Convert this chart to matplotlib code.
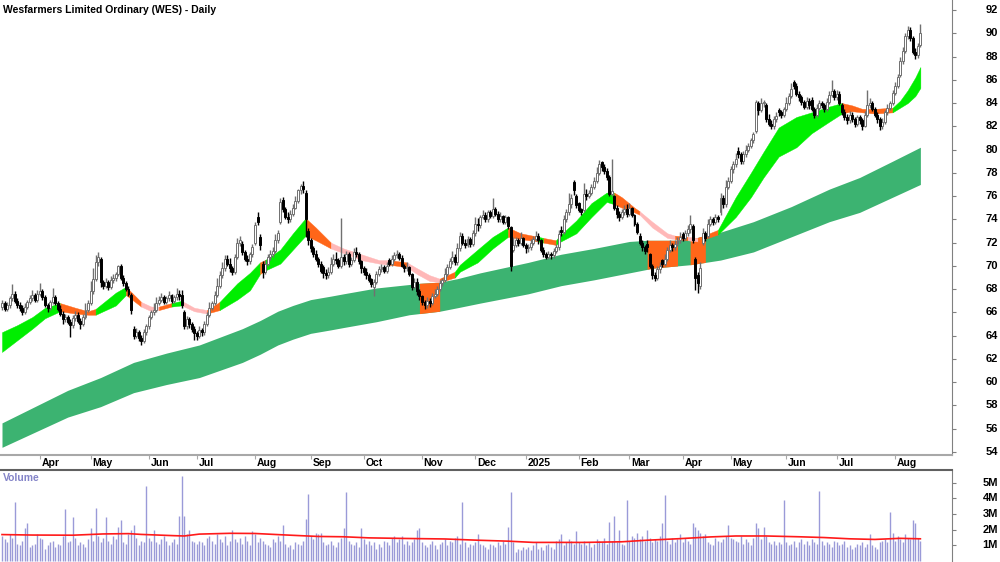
import numpy as np
import pandas as pd
import matplotlib
matplotlib.use('Agg')
import matplotlib.pyplot as plt
import matplotlib.transforms as mtransforms

plt.rcParams['font.family'] = ['Liberation Sans', 'DejaVu Sans']

# ASX trading days shown on the chart
holidays = ['2024-03-29', '2024-04-01', '2024-04-25', '2024-06-10', '2024-12-25',
            '2024-12-26', '2025-01-01', '2025-01-27', '2025-04-18', '2025-04-21',
            '2025-04-25', '2025-06-09']
dates = pd.bdate_range('2024-03-08', '2025-08-15', freq='C', holidays=holidays)

title = 'Wesfarmers Limited Ordinary (WES) - Daily'

# daily prices, one line per month (Mar 2024 .. Aug 2025)
opens = [
    66.5, 66.8, 66.3, 66.6, 67.2, 67.6, 67.0, 66.6, 66.4, 66.0, 66.5, 66.9, 67.2, 67.5, 67.1,
    67.6, 67.8, 67.3, 66.6, 66.4, 66.9, 67.3, 66.8, 66.3, 65.9, 65.4, 65.6, 65.2, 64.9, 65.5, 65.8, 65.3, 65.0, 65.6, 66.2,
    66.8, 67.8, 68.9, 70.3, 70.6, 68.6, 68.3, 68.6, 68.2, 68.8, 69.0, 69.3, 70.0, 69.0, 68.5, 68.0, 67.5, 64.6, 64.0, 64.3, 63.8, 63.5, 64.3,
    64.8, 65.6, 66.0, 66.2, 66.8, 67.1, 67.3, 66.9, 67.2, 67.5, 67.0, 67.3, 67.6, 67.5, 66.0, 64.8, 65.4, 65.0, 64.6,
    64.2, 64.0, 64.5, 64.3, 65.0, 65.8, 66.4, 66.8, 67.5, 68.3, 69.2, 69.8, 70.6, 70.2, 69.8, 69.5, 70.8, 72.0, 71.9, 71.2, 70.6, 70.4, 71.0,
    72.0, 74.2, 72.5, 70.2, 69.5, 70.2, 70.8, 71.0, 71.3, 72.2, 73.8, 75.7, 74.9, 74.2, 74.0, 74.5, 75.0, 75.6, 76.5, 76.9, 76.3, 73.0,
    72.2, 71.5, 71.0, 70.6, 70.2, 69.9, 69.4, 69.2, 69.5, 70.2, 70.6, 70.5, 70.0, 70.8, 70.4, 71.0, 70.2, 70.5, 71.2, 71.0, 70.4,
    69.8, 69.5, 69.2, 68.9, 68.2, 68.6, 69.3, 69.7, 69.9, 69.6, 70.5, 70.2, 70.6, 70.9, 71.0, 70.7, 70.0, 69.8, 69.9, 69.3, 68.2, 68.6, 67.8,
    67.4, 66.9, 66.6, 67.0, 66.8, 67.4, 67.6, 68.0, 68.5, 68.8, 69.3, 69.9, 70.4, 70.8, 70.3, 71.5, 72.6, 72.0, 71.8, 72.3, 71.9,
    72.8, 73.6, 73.5, 74.2, 74.4, 74.0, 74.6, 74.3, 74.9, 74.5, 74.0, 74.3, 73.8, 74.2, 73.3, 71.4, 71.8, 72.2, 72.0, 72.4,
    71.8, 71.5, 71.6, 72.0, 72.3, 72.6, 72.2, 71.4, 71.0, 70.8, 71.0, 70.9, 71.3, 71.6, 73.1, 72.9, 74.0, 74.6, 75.3, 77.2, 76.0,
    75.4, 74.9, 74.8, 76.2, 76.0, 76.3, 76.8, 77.3, 78.0, 78.9, 78.5, 78.2, 77.6, 76.2, 76.0, 75.0, 74.5, 74.2, 74.6, 74.9,
    74.5, 75.0, 74.4, 73.6, 72.6, 72.0, 71.6, 71.9, 71.0, 70.0, 69.2, 69.0, 69.7, 70.5, 70.2, 70.6, 71.4, 71.8, 71.6, 71.9, 72.2,
    72.7, 72.4, 72.8, 73.2, 73.4, 70.6, 69.2, 68.3, 72.0, 72.8, 72.6, 73.6, 74.0, 73.8, 74.2, 74.6, 75.8, 75.3, 76.8,
    77.3, 78.3, 78.8, 79.9, 79.6, 79.0, 79.6, 80.0, 80.3, 80.8, 81.6, 84.0, 83.4, 84.0, 83.8, 82.6, 82.2, 82.0, 82.6, 83.4, 83.2, 83.0,
    83.5, 84.0, 84.6, 85.8, 85.5, 84.8, 84.5, 84.1, 83.7, 84.2, 84.3, 83.5, 83.0, 83.6, 84.0, 83.8, 83.5, 84.1, 84.7, 85.0,
    84.5, 84.8, 83.8, 83.2, 82.8, 82.5, 83.0, 82.6, 82.2, 82.8, 82.5, 82.0, 83.0, 83.8, 84.0, 83.5, 83.0, 82.6, 82.0, 82.4, 83.2, 83.6, 84.0,
    84.9, 85.5, 86.4, 87.6, 88.5, 89.8, 90.3, 89.6, 88.4, 88.1, 89.0,
]
highs = [
    67.1, 67.0, 66.9, 67.4, 68.4, 67.8, 67.2, 66.9, 66.6, 66.8, 67.1, 67.5, 67.9, 67.7, 67.9,
    68.5, 68.0, 67.5, 66.8, 67.1, 68.1, 67.5, 67.0, 66.6, 66.1, 65.9, 65.8, 65.4, 65.8, 66.1, 66.0, 65.5, 65.9, 66.8, 67.1,
    68.7, 69.8, 70.9, 71.2, 70.8, 68.8, 69.0, 68.8, 69.1, 69.3, 69.5, 70.1, 70.2, 69.2, 68.7, 68.3, 67.7, 64.8, 64.7, 64.5, 64.1, 64.6, 65.0,
    65.8, 66.2, 66.8, 67.3, 67.4, 67.7, 67.5, 67.4, 67.8, 67.6, 67.5, 68.1, 67.9, 67.9, 66.2, 65.7, 65.6, 65.2, 64.8,
    64.4, 64.8, 64.7, 65.3, 66.0, 66.9, 67.0, 67.8, 69.0, 69.6, 70.3, 70.9, 70.9, 70.7, 70.0, 71.0, 72.4, 72.6, 72.1, 71.4, 70.9, 71.2, 71.9,
    73.8, 74.6, 72.7, 70.4, 70.5, 71.0, 71.4, 71.6, 72.7, 73.1, 75.8, 75.9, 75.1, 74.6, 74.8, 75.3, 76.0, 76.6, 77.0, 77.3, 76.5, 73.3,
    72.4, 71.7, 71.4, 70.8, 70.4, 70.1, 69.7, 69.9, 70.8, 71.0, 71.2, 70.7, 74.1, 71.0, 71.3, 71.2, 70.8, 71.5, 71.6, 71.2, 70.5,
    70.0, 69.8, 69.4, 69.0, 68.9, 69.6, 70.0, 70.2, 70.1, 70.3, 70.7, 70.9, 71.2, 71.4, 71.2, 70.9, 70.2, 70.3, 70.0, 69.4, 69.0, 69.0, 68.0,
    67.5, 67.1, 67.3, 67.2, 67.7, 68.0, 68.3, 68.8, 69.0, 69.8, 70.2, 70.7, 71.3, 71.0, 72.0, 72.9, 72.8, 72.3, 72.6, 72.5, 73.1,
    74.2, 74.1, 74.4, 74.8, 74.6, 74.8, 74.8, 75.8, 75.1, 74.7, 74.6, 74.4, 74.4, 74.3, 73.4, 72.5, 72.5, 72.4, 72.9, 72.5,
    72.0, 71.9, 72.3, 72.6, 73.0, 72.8, 72.3, 71.6, 71.2, 71.3, 71.2, 71.5, 71.9, 73.1, 73.4, 74.4, 74.9, 76.3, 76.2, 77.4, 76.2,
    75.5, 75.0, 77.1, 76.6, 76.5, 77.0, 77.6, 78.5, 79.1, 79.0, 78.8, 78.4, 77.8, 79.2, 76.1, 75.2, 74.7, 74.9, 75.2, 75.3,
    75.4, 75.1, 74.5, 73.8, 72.8, 72.2, 71.8, 72.2, 71.1, 70.2, 69.5, 70.0, 70.3, 70.6, 71.0, 71.6, 72.2, 72.0, 72.2, 72.5, 72.9,
    72.9, 73.1, 73.5, 74.4, 73.6, 70.8, 69.5, 70.3, 73.3, 73.0, 74.0, 74.3, 74.2, 74.5, 74.4, 76.3, 76.1, 77.4, 77.6,
    78.6, 79.0, 79.7, 80.2, 79.8, 79.9, 80.4, 80.6, 81.0, 81.5, 84.3, 84.2, 84.4, 84.3, 84.0, 83.1, 82.5, 82.9, 83.2, 83.6, 83.4, 83.7,
    84.5, 84.9, 85.7, 86.0, 85.7, 85.0, 84.7, 84.3, 84.5, 84.4, 84.5, 83.7, 83.9, 84.3, 84.2, 84.0, 84.4, 85.0, 86.0, 85.2,
    85.1, 85.0, 84.0, 83.5, 83.1, 83.3, 83.2, 82.8, 83.0, 83.0, 82.7, 83.3, 85.1, 84.4, 84.2, 83.7, 83.2, 82.8, 82.7, 83.4, 83.9, 84.2, 85.1,
    85.8, 86.5, 88.0, 88.8, 90.0, 90.6, 90.5, 89.8, 88.7, 89.2, 90.8,
]
lows = [
    66.2, 66.1, 66.1, 66.4, 67.0, 66.8, 66.4, 66.1, 65.8, 65.9, 66.3, 66.7, 67.0, 66.9, 66.9,
    67.4, 67.1, 66.5, 66.0, 66.2, 66.7, 66.6, 66.1, 65.7, 65.0, 65.2, 65.0, 63.9, 64.7, 65.3, 65.1, 64.6, 64.8, 65.4, 66.0,
    66.6, 67.6, 68.7, 70.0, 68.2, 68.0, 68.1, 67.9, 68.0, 68.5, 68.7, 69.1, 68.8, 68.3, 67.8, 67.4, 65.9, 63.7, 63.8, 63.5, 63.2, 63.4, 64.1,
    64.6, 65.4, 65.8, 66.0, 66.6, 66.9, 66.7, 66.7, 67.0, 66.8, 66.8, 67.1, 67.1, 66.4, 64.6, 64.6, 64.7, 64.3, 63.6,
    63.6, 63.8, 64.0, 64.1, 64.8, 65.6, 66.2, 66.6, 67.3, 68.1, 69.0, 69.6, 70.0, 69.5, 69.2, 69.3, 70.6, 71.7, 70.9, 70.4, 70.1, 70.2, 70.8,
    71.8, 73.5, 71.4, 69.0, 69.3, 70.0, 70.5, 70.8, 71.1, 72.0, 73.6, 74.6, 74.0, 73.7, 73.8, 74.3, 74.9, 75.4, 76.2, 76.3, 72.5, 71.8,
    71.2, 70.8, 70.4, 69.9, 69.4, 69.0, 68.9, 69.0, 69.3, 70.0, 70.2, 69.8, 69.8, 70.1, 70.2, 69.9, 70.0, 70.3, 70.8, 70.2, 69.4,
    69.2, 68.9, 68.6, 68.2, 67.4, 68.4, 69.1, 69.5, 69.4, 69.4, 70.0, 70.0, 70.4, 70.7, 70.5, 69.9, 69.5, 69.6, 69.1, 67.9, 68.0, 67.5, 67.1,
    66.6, 66.3, 66.4, 66.5, 66.6, 67.2, 67.4, 67.8, 68.3, 68.6, 69.1, 69.7, 70.2, 70.1, 70.1, 71.3, 71.8, 71.5, 71.6, 71.6, 71.7,
    72.6, 73.0, 73.3, 74.0, 73.8, 73.8, 74.1, 74.1, 74.3, 73.8, 73.8, 73.6, 73.6, 73.2, 69.6, 71.2, 71.6, 71.7, 71.8, 71.6,
    71.1, 71.2, 71.4, 71.8, 72.1, 71.9, 71.2, 70.8, 70.6, 70.6, 70.6, 70.7, 71.1, 71.4, 72.6, 72.7, 73.8, 74.4, 75.0, 76.1, 75.0,
    74.6, 74.4, 74.6, 75.7, 75.8, 76.1, 76.6, 77.1, 77.8, 78.2, 77.9, 77.4, 76.0, 76.0, 74.8, 74.1, 73.9, 74.0, 74.4, 74.2,
    74.3, 74.2, 73.4, 72.7, 71.8, 71.3, 71.0, 71.2, 69.8, 68.9, 68.7, 68.8, 69.4, 69.9, 70.0, 70.4, 71.2, 71.3, 71.4, 71.7, 72.0,
    72.1, 72.2, 72.6, 72.8, 72.0, 67.9, 67.7, 68.0, 71.8, 72.1, 72.4, 73.4, 73.5, 73.6, 73.8, 74.4, 75.0, 75.1, 76.6,
    77.1, 78.0, 78.5, 79.3, 78.8, 78.8, 79.4, 79.8, 80.1, 80.6, 81.4, 83.0, 83.2, 83.7, 82.4, 82.0, 81.8, 81.8, 82.4, 82.9, 82.7, 82.8,
    83.3, 83.8, 84.4, 85.2, 84.6, 84.2, 83.8, 83.5, 83.5, 83.5, 83.3, 82.7, 82.8, 83.4, 83.6, 83.2, 83.3, 83.9, 84.5, 84.3,
    84.3, 83.8, 83.0, 82.5, 82.2, 82.3, 82.4, 81.9, 82.0, 82.2, 81.7, 81.9, 82.8, 83.6, 83.3, 82.8, 82.3, 81.7, 81.8, 82.2, 83.0, 83.4, 83.8,
    84.7, 85.3, 86.2, 87.4, 88.3, 89.5, 89.3, 88.2, 87.8, 87.9, 88.8,
]
closes = [
    66.8, 66.3, 66.6, 67.2, 67.6, 67.0, 66.6, 66.4, 66.0, 66.5, 66.9, 67.2, 67.5, 67.1, 67.6,
    67.8, 67.3, 66.6, 66.4, 66.9, 67.3, 66.8, 66.3, 65.9, 65.4, 65.6, 65.2, 64.9, 65.5, 65.8, 65.3, 65.0, 65.6, 66.2, 66.8,
    67.8, 68.9, 70.3, 70.8, 68.6, 68.3, 68.6, 68.2, 68.8, 69.0, 69.3, 70.0, 69.0, 68.5, 68.0, 67.6, 66.2, 64.0, 64.3, 63.8, 63.5, 64.3, 64.8,
    65.6, 66.0, 66.2, 66.8, 67.1, 67.3, 66.9, 67.2, 67.5, 67.0, 67.3, 67.6, 67.4, 66.6, 64.8, 65.4, 65.0, 64.6, 64.2,
    64.0, 64.5, 64.3, 65.0, 65.8, 66.4, 66.8, 67.5, 68.3, 69.2, 69.8, 70.6, 70.2, 69.8, 69.5, 70.8, 72.0, 72.2, 71.2, 70.6, 70.4, 71.0, 71.6,
    73.5, 73.8, 71.8, 69.5, 70.2, 70.8, 71.0, 71.3, 72.2, 72.8, 75.5, 74.9, 74.2, 74.0, 74.5, 75.0, 75.6, 76.5, 76.9, 76.6, 74.0, 72.2,
    71.5, 71.0, 70.6, 70.2, 69.6, 69.4, 69.2, 69.5, 70.2, 70.6, 70.5, 70.0, 70.8, 70.4, 71.0, 70.2, 70.5, 71.2, 71.0, 70.4, 69.8,
    69.5, 69.2, 68.8, 68.4, 68.6, 69.3, 69.7, 69.9, 69.6, 70.0, 70.2, 70.6, 70.9, 71.0, 70.7, 70.0, 69.8, 69.9, 69.3, 68.2, 68.6, 67.8, 67.4,
    66.9, 66.6, 67.0, 66.8, 67.4, 67.6, 68.0, 68.5, 68.8, 69.3, 69.9, 70.4, 70.8, 70.3, 71.5, 72.6, 72.0, 71.8, 72.3, 71.9, 72.8,
    73.6, 73.5, 74.2, 74.4, 74.0, 74.6, 74.3, 74.9, 74.5, 74.0, 74.3, 73.8, 74.2, 73.4, 70.0, 71.8, 72.2, 72.0, 72.4, 71.8,
    71.5, 71.6, 72.0, 72.3, 72.6, 72.2, 71.4, 71.0, 70.8, 71.0, 70.9, 71.3, 71.6, 72.7, 72.9, 74.0, 74.6, 75.3, 75.8, 76.5, 75.2,
    74.8, 74.6, 76.2, 76.0, 76.3, 76.8, 77.3, 78.0, 78.8, 78.5, 78.2, 77.6, 76.2, 76.4, 75.0, 74.5, 74.2, 74.6, 74.9, 74.5,
    75.0, 74.4, 73.6, 72.9, 72.0, 71.6, 71.3, 71.6, 70.0, 69.2, 69.0, 69.7, 70.0, 70.2, 70.6, 71.4, 71.8, 71.6, 71.9, 72.2, 72.5,
    72.4, 72.8, 73.2, 73.6, 72.2, 69.0, 68.5, 69.8, 72.8, 72.4, 73.6, 74.0, 73.8, 74.2, 74.0, 75.8, 75.3, 76.8, 77.3,
    78.3, 78.8, 79.2, 79.6, 79.0, 79.6, 80.0, 80.3, 80.8, 81.3, 84.1, 83.4, 84.0, 84.1, 82.6, 82.2, 82.0, 82.6, 82.9, 83.2, 83.0, 83.5,
    84.0, 84.6, 85.2, 85.5, 84.8, 84.5, 84.1, 83.7, 84.2, 83.8, 83.5, 83.0, 83.6, 84.0, 83.8, 83.5, 84.1, 84.7, 85.0, 84.5,
    84.8, 84.0, 83.2, 82.8, 82.5, 83.0, 82.6, 82.2, 82.8, 82.5, 82.0, 83.0, 83.8, 84.0, 83.5, 83.0, 82.6, 82.0, 82.4, 83.2, 83.6, 84.0, 84.9,
    85.5, 86.2, 87.6, 88.5, 89.8, 90.3, 89.6, 88.4, 88.1, 88.9, 90.0,
]
# volume in units of 100,000 shares
volume_100k = [
    16, 14, 12, 17, 15, 38, 11, 10, 13, 21, 24, 9, 10, 11, 17,
    15, 14, 8, 10, 12, 13, 9, 11, 10, 16, 33, 12, 13, 28, 15, 10, 12, 11, 9, 14,
    21, 13, 34, 16, 12, 15, 28, 13, 11, 16, 14, 22, 26, 12, 11, 17, 20, 23, 15, 10, 13, 12, 48,
    15, 13, 20, 12, 11, 14, 16, 13, 10, 12, 14, 11, 29, 54, 29, 17, 20, 13, 12,
    11, 13, 12, 10, 15, 16, 13, 11, 17, 14, 12, 16, 10, 13, 20, 14, 12, 15, 11, 16, 13, 10, 19,
    17, 12, 15, 13, 11, 10, 9, 14, 12, 16, 13, 23, 11, 9, 10, 8, 12, 11, 10, 13, 27, 43,
    16, 14, 18, 17, 18, 12, 10, 11, 13, 10, 9, 12, 15, 21, 44, 13, 11, 10, 12, 9, 21,
    14, 11, 13, 10, 12, 8, 11, 9, 13, 12, 10, 15, 16, 12, 14, 16, 11, 13, 10, 12, 14, 20, 21,
    12, 10, 9, 11, 13, 10, 8, 11, 12, 14, 10, 13, 12, 15, 16, 11, 38, 12, 9, 11, 10,
    12, 17, 11, 10, 9, 8, 11, 10, 9, 12, 10, 13, 11, 22, 44, 12, 6, 8, 7, 9,
    8, 9, 7, 10, 12, 8, 9, 7, 10, 11, 9, 8, 13, 14, 17, 10, 12, 14, 13, 11, 19,
    12, 11, 13, 10, 12, 9, 11, 14, 13, 12, 15, 11, 25, 13, 29, 12, 20, 11, 10, 39,
    13, 16, 15, 18, 14, 16, 13, 20, 15, 12, 14, 13, 16, 24, 42, 13, 11, 15, 12, 14, 17,
    12, 15, 13, 11, 24, 22, 20, 18, 16, 17, 12, 11, 10, 15, 13, 12, 14, 16, 23,
    15, 14, 13, 12, 16, 11, 14, 12, 10, 15, 24, 21, 14, 22, 16, 12, 11, 13, 10, 12, 11, 39,
    12, 10, 11, 13, 9, 12, 14, 11, 13, 10, 14, 12, 11, 45, 13, 10, 12, 11, 9, 13,
    12, 10, 11, 13, 9, 10, 8, 9, 11, 10, 12, 9, 11, 17, 10, 9, 8, 12, 13, 14, 12, 31, 18,
    13, 16, 14, 12, 17, 15, 14, 26, 24, 15, 13,
]

# volume average line (day index, millions)
vol_ma_idx = [0, 12, 28, 40, 50, 55, 68, 72, 78, 90, 100, 110, 118, 125, 135, 145, 160,
              175, 188, 200, 210, 230, 245, 255, 268, 280, 290, 302, 315, 325, 335, 345, 355, 363]
vol_ma = [1.69, 1.66, 1.65, 1.73, 1.75, 1.70, 1.62, 1.60, 1.72, 1.77, 1.76, 1.68, 1.62, 1.57,
          1.55, 1.48, 1.44, 1.41, 1.33, 1.27, 1.19, 1.19, 1.23, 1.33, 1.43, 1.54, 1.60, 1.60,
          1.55, 1.50, 1.42, 1.38, 1.45, 1.42]

# short-term band (day index, upper, lower) and colour of each following segment
sb_idx = [0, 6, 12, 17, 23, 29, 34, 37, 41, 45, 49, 55, 59, 62, 67, 71, 76, 81, 86, 93, 98,
          102, 104, 110, 115, 120, 124, 130, 135, 142, 149, 153, 160, 164, 169, 173, 179, 181,
          188, 194, 200, 205, 212, 214, 219, 220, 227, 233, 239, 242, 245, 250, 252, 257, 263,
          266, 271, 275, 283, 290, 296, 301, 307, 314, 320, 327, 332, 336, 340, 345, 352, 355,
          358, 361, 363]
sb_top = [64.3, 64.9, 65.6, 66.4, 66.8, 66.4, 66.1, 66.3, 67.0, 67.7, 68.2, 66.9, 66.5, 66.5,
          66.8, 67.0, 66.4, 66.2, 66.9, 68.5, 69.4, 70.3, 70.5, 71.4, 72.8, 74.1, 73.3, 72.0,
          71.5, 71.0, 70.5, 70.5, 70.3, 69.8, 69.2, 68.9, 69.5, 70.1, 71.4, 72.5, 73.3, 72.8,
          72.5, 72.4, 72.2, 72.5, 73.9, 75.4, 76.3, 76.3, 75.9, 75.0, 74.7, 73.8, 72.8, 72.6,
          72.5, 72.4, 73.1, 75.9, 78.0, 79.8, 81.9, 82.8, 83.2, 83.7, 84.0, 83.8, 83.5, 83.5,
          83.6, 84.2, 85.1, 86.2, 87.1]
sb_bot = [62.6, 63.6, 64.6, 65.5, 66.1, 65.9, 65.8, 65.8, 66.2, 66.6, 67.5, 66.5, 66.1, 66.2,
          66.5, 66.6, 66.1, 65.9, 66.2, 67.1, 67.9, 69.3, 69.6, 70.2, 71.4, 72.6, 72.2, 71.5,
          71.1, 70.5, 70.2, 70.1, 69.9, 69.3, 68.7, 68.6, 69.0, 69.5, 70.3, 71.5, 72.5, 72.3,
          72.1, 72.0, 71.8, 72.0, 72.8, 74.2, 75.5, 75.3, 75.0, 74.6, 74.4, 73.3, 72.4, 72.3,
          72.2, 72.1, 72.7, 74.2, 75.9, 77.6, 79.4, 80.2, 81.4, 82.4, 83.1, 83.3, 83.2, 83.1,
          83.2, 83.6, 84.0, 84.6, 85.3]
sb_color = ('ggggoooggg' 'oppogppogg' 'gogggooppp' 'popppogggg'
            'oogogggggo' 'oopppopogg' 'ggggggoooo' 'gggg')

# long-term band (day index, upper, lower)
lb_idx = [0, 13, 26, 39, 52, 65, 78, 95, 102, 109, 115, 122, 130, 135, 148, 161, 165, 173,
          180, 189, 208, 221, 234, 248, 255, 257, 267, 272, 278, 284, 297, 312, 327, 339, 352, 363]
lb_top = [56.5, 57.9, 59.3, 60.4, 61.7, 62.5, 63.2, 64.6, 65.3, 66.1, 66.6, 67.1, 67.4, 67.6,
          68.1, 68.4, 68.5, 68.6, 68.9, 69.4, 70.3, 71.0, 71.5, 72.1, 72.2, 72.2, 72.2, 72.3,
          72.6, 72.9, 73.8, 75.1, 76.6, 77.6, 79.0, 80.2]
lb_bot = [54.4, 55.7, 57.0, 57.9, 59.1, 59.8, 60.4, 61.7, 62.4, 63.2, 63.7, 64.2, 64.5, 64.7,
          65.2, 65.8, 65.9, 66.1, 66.4, 66.8, 67.6, 68.3, 68.8, 69.4, 69.7, 69.8, 70.0, 70.1,
          70.3, 70.5, 71.2, 72.5, 73.8, 74.6, 75.9, 77.0]
lb_orange = [(165, 173), (255, 267), (272, 278)]

band_colors = {'g': '#00ee00', 'o': '#ff6619', 'p': '#ffb8b8'}

n = len(closes)
assert len(opens) == n and len(highs) == n and len(lows) == n and len(volume_100k) == n
assert len(dates) == n
assert len(sb_top) == len(sb_idx) and len(sb_bot) == len(sb_idx)
assert len(sb_color) == len(sb_idx) - 1
assert len(lb_top) == len(lb_idx) and len(lb_bot) == len(lb_idx)

o = np.array(opens)
h = np.array(highs)
l = np.array(lows)
c = np.array(closes)
vol = np.array(volume_100k) / 10.0
x = np.arange(n)

fig = plt.figure(figsize=(10, 5.62), dpi=100)
ax = fig.add_axes([0, 107 / 562, 0.952, 455 / 562])
axv = fig.add_axes([0, 0, 0.952, 92 / 562])

xmin, xmax = -0.79, 375.5

# long band
lbi = np.array(lb_idx)
ax.fill_between(lbi, lb_bot, lb_top, color='#3cb371', lw=0, zorder=1)
for a, b in lb_orange:
    m = (lbi >= a) & (lbi <= b)
    ax.fill_between(lbi, lb_bot, lb_top, where=m, color=band_colors['o'], lw=0, zorder=1.5)

# short band, coloured segment by segment
k = 0
while k < len(sb_color):
    j = k
    while j + 1 < len(sb_color) and sb_color[j + 1] == sb_color[k]:
        j += 1
    col = band_colors[sb_color[k]]
    ax.fill_between(sb_idx[k:j + 2], sb_bot[k:j + 2], sb_top[k:j + 2],
                    facecolor=col, edgecolor=col, lw=0.3, zorder=2)
    k = j + 1

# candles
up = c >= o
ax.vlines(x[up], l[up], h[up], color='#707070', lw=1.0, zorder=3)
ax.vlines(x[~up], l[~up], h[~up], color='black', lw=1.0, zorder=3)
blo = np.minimum(o, c)
bh = np.maximum(np.abs(c - o), 0.06)
ax.bar(x[up], bh[up], 0.78, bottom=blo[up], facecolor='white', edgecolor='#707070', lw=0.7, zorder=4)
ax.bar(x[~up], bh[~up], 0.78, bottom=blo[~up], facecolor='black', edgecolor='black', lw=0.7, zorder=4)

ax.set_xlim(xmin, xmax)
ax.set_ylim(53.74, 92.86)
for s in ['top', 'left']:
    ax.spines[s].set_visible(False)
ax.spines['right'].set_color('#808080')
ax.spines['bottom'].set_color('#a8a8a8')
ax.spines['bottom'].set_linewidth(1.5)
ax.yaxis.tick_right()
price_ticks = list(range(54, 93, 2))
ax.set_yticks(price_ticks)
ax.tick_params(axis='y', length=3, color='#808080', labelright=False)
ptrans = mtransforms.blended_transform_factory(fig.transFigure, ax.transData)
for v in price_ticks:
    ax.text(0.998, v, str(v), transform=ptrans, ha='right', va='center',
            fontsize=8, fontweight='bold', clip_on=False)

# month ticks and labels
months = dates.month
starts = [i for i in range(1, n) if months[i] != months[i - 1]]
ax.set_xticks(starts)
ax.tick_params(axis='x', direction='out', length=3, color='#a8a8a8', labelbottom=False)
trans = mtransforms.blended_transform_factory(ax.transData, ax.transAxes)
for i in starts:
    lab = '2025' if dates[i].month == 1 else dates[i].strftime('%b')
    ax.text(i + 0.7, -0.0176, lab, transform=trans, ha='left', va='center',
            fontsize=7.5, fontweight='bold', clip_on=False)

# volume
axv.vlines(x, 0, vol, color='#9a9ad8', lw=1.0)
axv.plot(vol_ma_idx, vol_ma, color='#ff1a1a', lw=1.2)
axv.set_xlim(xmin, xmax)
axv.set_ylim(-0.06, 5.81)
axv.set_xticks([])
for s in ['left', 'bottom']:
    axv.spines[s].set_visible(False)
axv.spines['top'].set_color('#606060')
axv.spines['top'].set_linewidth(1.5)
axv.spines['right'].set_color('#808080')
axv.yaxis.tick_right()
vol_ticks = [1, 2, 3, 4, 5]
axv.set_yticks(vol_ticks)
axv.tick_params(axis='y', length=3, color='#808080', labelright=False)
vtrans = mtransforms.blended_transform_factory(fig.transFigure, axv.transData)
for v in vol_ticks:
    axv.text(0.998, v, '%dM' % v, transform=vtrans, ha='right', va='center',
             fontsize=8, fontweight='bold', clip_on=False)

fig.text(0.003, 1 - 10 / 562, title, fontsize=7.5, fontweight='bold', ha='left', va='center')
fig.text(0.003, 1 - 478 / 562, 'Volume', fontsize=7.5, fontweight='bold', color='#8484c8',
         ha='left', va='center')

fig.savefig('out.png', dpi=100)
